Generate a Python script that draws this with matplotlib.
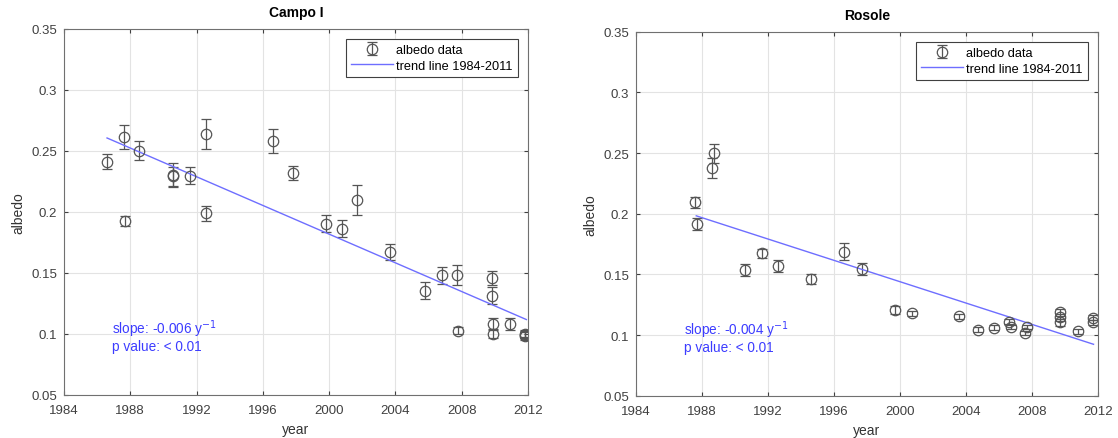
import numpy as np
import matplotlib
matplotlib.use("Agg")
import matplotlib.pyplot as plt

plt.rcParams["font.family"] = ["Liberation Sans", "DejaVu Sans"]

# Campo I
campo_years = [1986.6, 1987.6, 1988.5, 1990.6, 1990.6, 1991.6, 1992.6, 1996.6, 1997.8, 2001.7,
               1987.7, 1992.6, 1999.8, 2000.8, 2003.7, 2005.8, 2006.8, 2007.7, 2007.8,
               2009.8, 2009.8, 2009.9, 2009.9, 2010.9, 2011.8, 2011.8, 2011.8]
campo_albedo = [0.241, 0.261, 0.250, 0.229, 0.230, 0.2295, 0.2637, 0.258, 0.2317, 0.2096,
                0.1924, 0.1987, 0.190, 0.186, 0.1667, 0.135, 0.148, 0.148, 0.1025,
                0.1456, 0.131, 0.108, 0.100, 0.108, 0.098, 0.099, 0.100]
campo_err = [0.006, 0.010, 0.008, 0.008, 0.010, 0.007, 0.012, 0.010, 0.006, 0.012,
             0.004, 0.006, 0.007, 0.007, 0.0065, 0.007, 0.007, 0.008, 0.003,
             0.006, 0.007, 0.005, 0.004, 0.005, 0.003, 0.003, 0.003]
campo_trend_x = [1986.6, 2011.9]
campo_trend_y = [0.2604, 0.1115]

# Rosole
rosole_years = [1987.6, 1988.6, 1988.7, 1987.7, 1990.6, 1991.65, 1992.6, 1994.6, 1996.6, 1997.7,
                1999.7, 2000.7, 2003.6, 2004.7, 2005.7, 2006.6, 2006.7, 2007.6, 2007.7,
                2009.7, 2009.7, 2009.7, 2010.8, 2011.7, 2011.7]
rosole_albedo = [0.2094, 0.2376, 0.2497, 0.1917, 0.1536, 0.1673, 0.1566, 0.1464, 0.1687, 0.1544,
                 0.1206, 0.1181, 0.1154, 0.1044, 0.106, 0.111, 0.1066, 0.1017, 0.1066,
                 0.1187, 0.1146, 0.1105, 0.103, 0.1143, 0.1105]
rosole_err = [0.0045, 0.008, 0.0075, 0.005, 0.005, 0.004, 0.005, 0.004, 0.007, 0.005,
              0.003, 0.002, 0.002, 0.002, 0.002, 0.002, 0.002, 0.002, 0.002,
              0.003, 0.003, 0.003, 0.002, 0.002, 0.002]
rosole_trend_x = [1987.65, 2011.73]
rosole_trend_y = [0.1983, 0.0924]

xticks = [1984, 1988, 1992, 1996, 2000, 2004, 2008, 2012]
yticks = [0.05, 0.1, 0.15, 0.2, 0.25, 0.3, 0.35]

fig = plt.figure(figsize=(11.18, 4.39), dpi=100)
ax1 = fig.add_axes([0.0572, 0.099, 0.4151, 0.8333])
ax2 = fig.add_axes([0.5689, 0.0963, 0.4132, 0.829])

panels = [
    (ax1, "Campo I", campo_years, campo_albedo, campo_err, campo_trend_x, campo_trend_y, "-0.006"),
    (ax2, "Rosole", rosole_years, rosole_albedo, rosole_err, rosole_trend_x, rosole_trend_y, "-0.004"),
]

for ax, title, yrs, alb, err, tx, ty, slope in panels:
    eb = ax.errorbar(yrs, alb, yerr=err, fmt="o", mfc="none", mec="#555555", ecolor="#555555",
                     ms=7.5, mew=0.9, elinewidth=0.9, capsize=3.5, capthick=0.9)
    ln, = ax.plot(tx, ty, color="#6e6eff", lw=1.0)
    ax.set_xlim(1984, 2012)
    ax.set_ylim(0.05, 0.35)
    ax.set_xticks(xticks)
    ax.set_yticks(yticks)
    ax.set_yticklabels(["%g" % v for v in yticks])
    ax.grid(True, color="#e3e3e3", lw=0.8)
    ax.set_axisbelow(True)
    ax.tick_params(direction="in", top=True, right=True, labelsize=9.5, colors="#404040",
                   length=3, pad=5)
    ax.tick_params(axis="x", pad=7)
    for s in ax.spines.values():
        s.set_color("#707070")
        s.set_linewidth(0.8)
    ax.set_title(title, fontsize=10, fontweight="bold", pad=9)
    ax.set_xlabel("year", fontsize=10, color="#333333", labelpad=4)
    ax.set_ylabel("albedo", fontsize=10, color="#333333", labelpad=4)
    ax.text(1986.9, 0.1045, "slope: " + slope + " y$^{-1}$", color="#3c3cff", fontsize=9.8, va="center")
    ax.text(1986.9, 0.090, "p value: < 0.01", color="#3c3cff", fontsize=9.8, va="center")
    leg = ax.legend([eb, ln], ["albedo data", "trend line 1984-2011"], loc="upper right",
                    fontsize=9.2, fancybox=False, edgecolor="#404040", framealpha=1,
                    borderaxespad=0.8, handlelength=3.3, handletextpad=0.25, borderpad=0.4,
                    labelspacing=0.3)
    leg.get_frame().set_linewidth(0.8)

fig.savefig("out.png", dpi=100)
